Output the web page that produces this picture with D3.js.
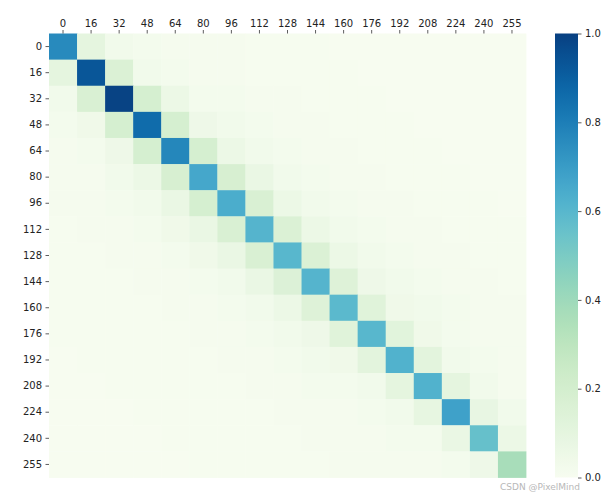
<!DOCTYPE html>
<html>
<head>
<meta charset="utf-8">
<script src="https://cdn.jsdelivr.net/npm/d3@7"></script>
<style>
  body { margin: 0; background: #fff; }
  text { font-family: "DejaVu Sans", sans-serif; }
</style>
</head>
<body>
<div id="graph"></div>
<script>
// category labels (both axes)
const labels = ["0","16","32","48","64","80","96","112","128","144","160","176","192","208","224","240","255"];

// matrix rows
const row0  = [0.76,0.10,0.03,0.02,0.01,0.01,0.01,0.005,0.005,0.003,0.002,0.002,0.001,0.001,0.001,0.001,0.001];
const row1  = [0.10,0.93,0.16,0.03,0.02,0.01,0.01,0.005,0.005,0.004,0.003,0.002,0.002,0.001,0.001,0.001,0.001];
const row2  = [0.03,0.17,0.99,0.19,0.06,0.02,0.02,0.01,0.01,0.005,0.004,0.003,0.002,0.002,0.001,0.001,0.001];
const row3  = [0.02,0.04,0.19,0.86,0.19,0.05,0.03,0.02,0.01,0.01,0.005,0.004,0.003,0.002,0.002,0.001,0.001];
const row4  = [0.01,0.02,0.05,0.19,0.77,0.19,0.06,0.03,0.02,0.01,0.01,0.005,0.004,0.003,0.002,0.002,0.001];
const row5  = [0.01,0.01,0.03,0.06,0.18,0.66,0.18,0.07,0.03,0.02,0.01,0.01,0.005,0.004,0.003,0.002,0.002];
const row6  = [0.01,0.01,0.02,0.03,0.07,0.19,0.64,0.17,0.06,0.03,0.02,0.01,0.01,0.005,0.004,0.003,0.002];
const row7  = [0.005,0.01,0.01,0.02,0.04,0.07,0.17,0.61,0.16,0.06,0.03,0.02,0.01,0.01,0.005,0.004,0.003];
const row8  = [0.005,0.005,0.01,0.01,0.02,0.04,0.07,0.17,0.60,0.16,0.06,0.03,0.02,0.01,0.01,0.005,0.004];
const row9  = [0.004,0.005,0.005,0.01,0.01,0.02,0.03,0.07,0.15,0.61,0.14,0.05,0.03,0.02,0.01,0.01,0.005];
const row10 = [0.003,0.004,0.005,0.005,0.01,0.01,0.02,0.03,0.06,0.14,0.59,0.13,0.04,0.03,0.02,0.01,0.01];
const row11 = [0.003,0.003,0.004,0.005,0.005,0.01,0.01,0.02,0.03,0.05,0.13,0.60,0.12,0.04,0.02,0.01,0.01];
const row12 = [0.002,0.003,0.003,0.004,0.005,0.005,0.01,0.01,0.02,0.03,0.04,0.11,0.62,0.11,0.03,0.02,0.01];
const row13 = [0.002,0.002,0.003,0.003,0.004,0.005,0.005,0.01,0.01,0.02,0.02,0.03,0.10,0.62,0.10,0.03,0.01];
const row14 = [0.001,0.002,0.002,0.003,0.003,0.004,0.005,0.005,0.01,0.01,0.01,0.02,0.03,0.09,0.68,0.08,0.03];
const row15 = [0.001,0.001,0.002,0.002,0.003,0.003,0.004,0.005,0.005,0.01,0.01,0.01,0.02,0.02,0.07,0.56,0.06];
const row16 = [0.001,0.001,0.001,0.002,0.002,0.003,0.003,0.004,0.005,0.005,0.01,0.01,0.01,0.01,0.02,0.05,0.37];
const rows = [row0,row1,row2,row3,row4,row5,row6,row7,row8,row9,row10,row11,row12,row13,row14,row15,row16];

// colorbar ticks
const cbarTicks = [0.0, 0.2, 0.4, 0.6, 0.8, 1.0];

const W = 611, H = 492;
const margin = {top: 33.5, left: 49, right: 85, bottom: 14.5};
const width = 526 - margin.left, height = 477.5 - margin.top;

const svg = d3.select("#graph").append("svg")
    .attr("width", W).attr("height", H);

const g = svg.append("g")
    .attr("transform", `translate(${margin.left},${margin.top})`);

const x = d3.scaleBand().domain(labels).range([0, width]);
const y = d3.scaleBand().domain(labels).range([0, height]);
const color = d3.scaleSequential(d3.interpolateGnBu).domain([0, 1]);

const cells = [];
rows.forEach((r, i) => r.forEach((v, j) => cells.push({row: labels[i], col: labels[j], v})));

g.selectAll("rect.cell")
  .data(cells)
  .join("rect")
    .attr("class", "cell")
    .attr("x", d => x(d.col))
    .attr("y", d => y(d.row))
    .attr("width", x.bandwidth() + 0.4)
    .attr("height", y.bandwidth() + 0.4)
    .attr("fill", d => color(d.v));

// axes
const xAxis = g.append("g").call(d3.axisTop(x).tickSize(3.5).tickPadding(3.5));
const yAxis = g.append("g").call(d3.axisLeft(y).tickSize(3.5).tickPadding(3.5));
[xAxis, yAxis].forEach(a => {
  a.select(".domain").remove();
  a.selectAll("line").attr("stroke", "#333").attr("stroke-width", 0.8);
  a.selectAll("text").attr("font-size", 10).attr("fill", "#222")
    .style("font-family", "DejaVu Sans, sans-serif");
});

// colorbar
const cbX = 555, cbW = 23;
const cy = d3.scaleLinear().domain([0, 1]).range([477.5, 33.5]);
const defs = svg.append("defs");
const grad = defs.append("linearGradient")
    .attr("id", "cbar").attr("x1", 0).attr("y1", 1).attr("x2", 0).attr("y2", 0);
grad.selectAll("stop")
  .data(d3.range(0, 1.0001, 0.02))
  .join("stop")
    .attr("offset", d => d)
    .attr("stop-color", d => color(d));

svg.append("rect")
    .attr("x", cbX).attr("y", cy(1))
    .attr("width", cbW).attr("height", cy(0) - cy(1))
    .attr("fill", "url(#cbar)");

const cAxis = svg.append("g")
    .attr("transform", `translate(${cbX + cbW},0)`)
    .call(d3.axisRight(cy).tickValues(cbarTicks).tickFormat(d3.format(".1f")).tickSize(3.5).tickPadding(3.5));
cAxis.select(".domain").remove();
cAxis.selectAll("line").attr("stroke", "#333").attr("stroke-width", 0.8);
cAxis.selectAll("text").attr("font-size", 10).attr("fill", "#222")
  .style("font-family", "DejaVu Sans, sans-serif");

// watermark (sits just under the colorbar's 0.0 label)
svg.append("text")
    .attr("x", 580).attr("y", 490)
    .attr("text-anchor", "end")
    .attr("font-size", 9)
    .attr("fill", "#b8b8b8")
    .text("CSDN @PixelMind");
</script>
</body>
</html>
